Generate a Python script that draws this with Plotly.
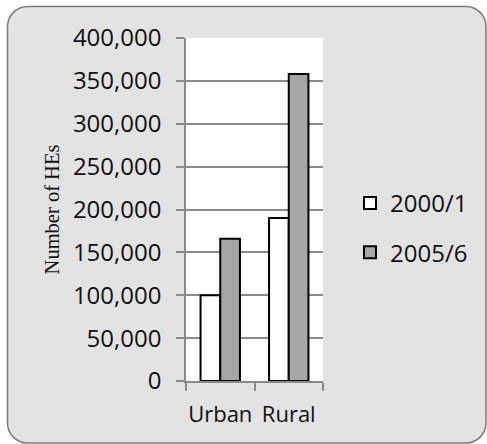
import plotly.graph_objects as go

# Households (HEs) by area, two survey rounds
areas = ["Urban", "Rural"]
series_names = ["2000/1", "2005/6"]
hes_2000 = [100000, 190000]
hes_2005 = [166000, 358000]

W, H = 487, 444
M_L, M_R, M_T, M_B = 186, 164, 38, 63
PW, PH = W - M_L - M_R, H - M_T - M_B


def px_x(x):
    return (x - M_L) / PW


def px_y(y):
    return (H - M_B - y) / PH


def rounded_rect_path(x0, y0, x1, y1, r):
    k = 0.5523 * r

    def P(x, y):
        return f"{px_x(x):.5f},{px_y(y):.5f}"
    d = f"M {P(x0 + r, y0)} L {P(x1 - r, y0)} "
    d += f"C {P(x1 - r + k, y0)} {P(x1, y0 + r - k)} {P(x1, y0 + r)} "
    d += f"L {P(x1, y1 - r)} "
    d += f"C {P(x1, y1 - r + k)} {P(x1 - r + k, y1)} {P(x1 - r, y1)} "
    d += f"L {P(x0 + r, y1)} "
    d += f"C {P(x0 + r - k, y1)} {P(x0, y1 - r + k)} {P(x0, y1 - r)} "
    d += f"L {P(x0, y0 + r)} "
    d += f"C {P(x0, y0 + r - k)} {P(x0 + r - k, y0)} {P(x0 + r, y0)} Z"
    return d


SANS = "Open Sans"
GRID = "#8a8a8a"
INK = "#111111"

fig = go.Figure()
fig.add_trace(go.Bar(
    x=areas, y=hes_2000, name=series_names[0], legendgroup="a",
    marker=dict(color="#ffffff", line=dict(color="#000000", width=2)),
))
fig.add_trace(go.Bar(
    x=areas, y=hes_2005, name=series_names[1], legendgroup="b",
    marker=dict(color="#a6a6a6", line=dict(color="#000000", width=2)),
))

fig.update_layout(
    width=W, height=H,
    margin=dict(l=M_L, r=M_R, t=M_T, b=M_B, autoexpand=False),
    paper_bgcolor="#ffffff",
    plot_bgcolor="#ffffff",
    barmode="group", bargap=0.425, bargroupgap=0,
    font=dict(family=SANS, size=24, color=INK),
    showlegend=True,
    legend=dict(
        x=px_x(350), y=px_y(181), xanchor="left", yanchor="top",
        bgcolor="rgba(0,0,0,0)", font=dict(family=SANS, size=24, color=INK),
        traceorder="grouped", tracegroupgap=15,
    ),
    shapes=[
        dict(type="path", xref="paper", yref="paper", layer="below",
             path=rounded_rect_path(7.5, 6.5, 486, 443, 20),
             fillcolor="#e3e3e3", line=dict(color="#7a7a7a", width=1.5)),
        dict(type="rect", xref="paper", yref="paper", layer="below",
             x0=0, x1=1, y0=0, y1=1, fillcolor="#ffffff", line=dict(width=0)),
    ],
)

fig.update_xaxes(
    type="category", tickson="boundaries", tickangle=0,
    ticks="outside", ticklen=8, tickwidth=1.5, tickcolor=GRID,
    showline=True, linecolor=GRID, linewidth=1.5,
    showgrid=False, ticklabelstandoff=13,
    tickfont=dict(family=SANS, size=22, color=INK),
)
fig.update_yaxes(
    range=[0, 400000], dtick=50000, tickformat=",d",
    ticks="outside", ticklen=8, tickwidth=1.5, tickcolor=GRID,
    showline=True, linecolor=GRID, linewidth=1.5,
    showgrid=True, gridcolor=GRID, gridwidth=1.5, zeroline=False,
    ticklabelstandoff=10,
    tickfont=dict(family=SANS, size=24, color=INK),
    title=dict(text="Number of HEs", standoff=8,
               font=dict(family="Liberation Serif", size=20.5, color=INK)),
)

fig.write_html("out.html")
